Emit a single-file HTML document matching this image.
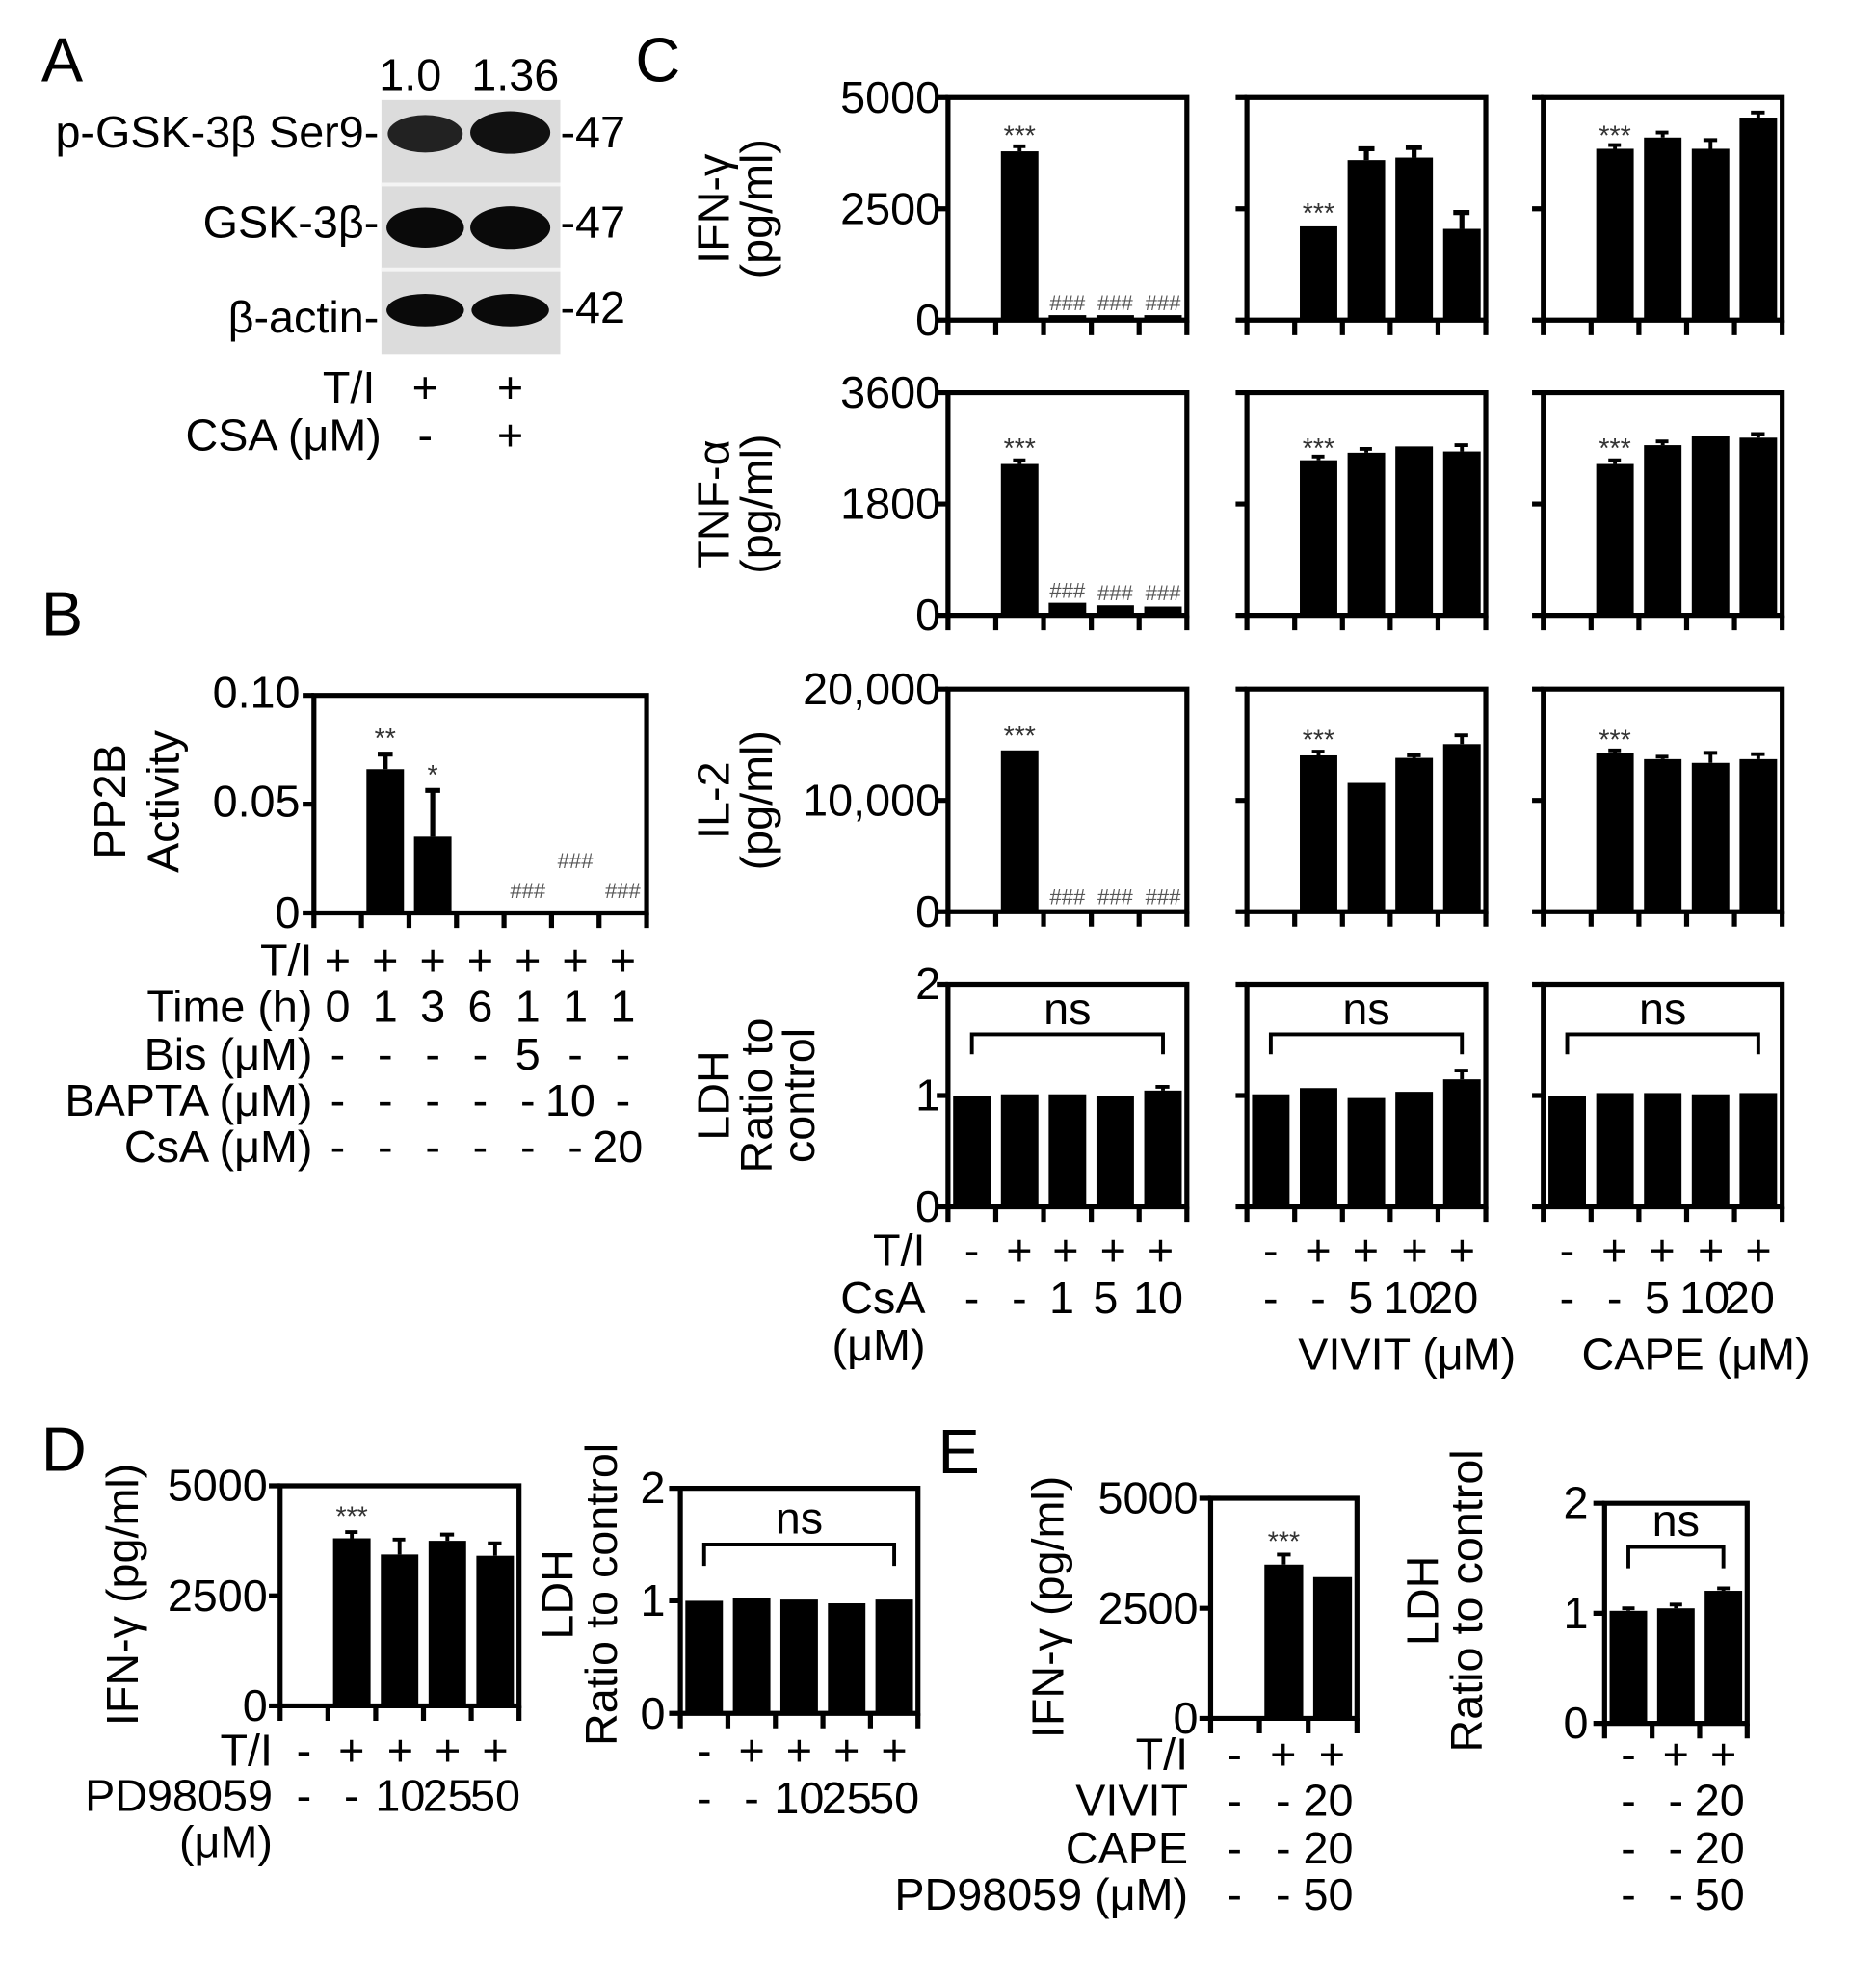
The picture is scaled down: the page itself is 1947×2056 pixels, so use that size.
<!DOCTYPE html>
<html><head><meta charset="utf-8"><style>
html,body{margin:0;padding:0;background:#fff;}
svg{display:block;}
text{font-family:"Liberation Sans",Arial,sans-serif;fill:#000;}
.t{font-size:36px;}
.e{text-anchor:end;}
.m{text-anchor:middle;}
.st{font-size:22px;text-anchor:middle;fill:#333;}
.hs{font-size:17px;text-anchor:middle;fill:#555;}
.L{font-size:50px;}
</style></head><body>
<svg width="1947" height="2056" viewBox="0 0 1500 1584" preserveAspectRatio="none" xmlns="http://www.w3.org/2000/svg">
<defs>
<g id="c5frame"><path d="M0,-2V178H191V0H-2" fill="none" stroke="#000" stroke-width="4"/><path d="M-9,0H0M-9,89H0M-9,178H0M0,178v12M38.2,178v12M76.4,178v12M114.6,178v12M152.8,178v12M191,178v12" stroke="#000" stroke-width="4"/></g>
</defs>

<!-- Panel A -->
<text x="33" y="65" class="L">A</text>
<text x="328" y="72" class="t m">1.0</text>
<text x="412" y="72" class="t m">1.36</text>
<rect x="305" y="80" width="143" height="203" fill="#dcdcdc"/>
<rect x="305" y="146" width="143" height="3" fill="#f4f4f4"/>
<rect x="305" y="214" width="143" height="3" fill="#f4f4f4"/>
<ellipse cx="340" cy="107" rx="30" ry="15" fill="#222"/>
<ellipse cx="408" cy="106" rx="32" ry="17" fill="#111"/>
<ellipse cx="340" cy="182" rx="31" ry="16" fill="#0a0a0a"/>
<ellipse cx="408" cy="182" rx="32" ry="17" fill="#0a0a0a"/>
<ellipse cx="340" cy="248" rx="31" ry="13" fill="#0a0a0a"/>
<ellipse cx="408" cy="248" rx="31" ry="13" fill="#0a0a0a"/>
<text x="303" y="118" class="t e">p-GSK-3β Ser9-</text>
<text x="303" y="190" class="t e">GSK-3β-</text>
<text x="303" y="266" class="t e">β-actin-</text>
<text x="448" y="118" class="t">-47</text>
<text x="448" y="190" class="t">-47</text>
<text x="448" y="258" class="t">-42</text>
<text x="300" y="322" class="t e">T/I</text>
<text x="340" y="322" class="t m">+</text><text x="408" y="322" class="t m">+</text>
<text x="305" y="360" class="t e">CSA (μM)</text>
<text x="340" y="360" class="t m">-</text><text x="408" y="360" class="t m">+</text>

<!-- Panel C -->
<text x="508" y="65" class="L">C</text>
<text transform="translate(583,167) rotate(-90)" class="t m">IFN-γ</text>
<text transform="translate(617,167) rotate(-90)" class="t m">(pg/ml)</text>
<text transform="translate(583,403) rotate(-90)" class="t m">TNF-α</text>
<text transform="translate(617,403) rotate(-90)" class="t m">(pg/ml)</text>
<text transform="translate(583,640) rotate(-90)" class="t m">IL-2</text>
<text transform="translate(617,640) rotate(-90)" class="t m">(pg/ml)</text>
<text transform="translate(583,876) rotate(-90)" class="t m">LDH</text>
<text transform="translate(617,876) rotate(-90)" class="t m">Ratio to</text>
<text transform="translate(651,876) rotate(-90)" class="t m">control</text>
<text x="752" y="90" class="t e">5000</text><text x="752" y="179" class="t e">2500</text><text x="752" y="268" class="t e">0</text>
<text x="752" y="326" class="t e">3600</text><text x="752" y="415" class="t e">1800</text><text x="752" y="504" class="t e">0</text>
<text x="752" y="563" class="t e">20,000</text><text x="752" y="652" class="t e">10,000</text><text x="752" y="741" class="t e">0</text>
<text x="752" y="799" class="t e">2</text><text x="752" y="888" class="t e">1</text><text x="752" y="977" class="t e">0</text>

<!-- Row1 -->
<g transform="translate(758,78)"><use href="#c5frame"/>
<rect x="42.3" y="43" width="30" height="135"/><path d="M57.3,43v-4M52,39h10" stroke="#000" stroke-width="3"/>
<rect x="80.5" y="174" width="30" height="4"/><rect x="118.7" y="174" width="30" height="4"/><rect x="156.9" y="174" width="30" height="4"/>
<text x="57.3" y="38" class="st">***</text>
<text x="95.5" y="170" class="hs">###</text><text x="133.7" y="170" class="hs">###</text><text x="171.9" y="170" class="hs">###</text>
</g>
<g transform="translate(997,78)"><use href="#c5frame"/>
<rect x="42.3" y="103" width="30" height="75"/>
<rect x="80.5" y="50" width="30" height="128"/><path d="M95.5,50v-9M89,41h13" stroke="#000" stroke-width="4"/>
<rect x="118.7" y="48" width="30" height="130"/><path d="M133.7,48v-8M127,40h13" stroke="#000" stroke-width="4"/>
<rect x="156.9" y="105" width="30" height="73"/><path d="M171.9,105v-13M165,92h13" stroke="#000" stroke-width="4"/>
<text x="57.3" y="100" class="st">***</text>
</g>
<g transform="translate(1234,78)"><use href="#c5frame"/>
<rect x="42.3" y="41" width="30" height="137"/><path d="M57.3,41v-3M52,38h10" stroke="#000" stroke-width="3"/>
<rect x="80.5" y="32" width="30" height="146"/><path d="M95.5,32v-4M90,28h10" stroke="#000" stroke-width="3"/>
<rect x="118.7" y="41" width="30" height="137"/><path d="M133.7,41v-7M128,34h11" stroke="#000" stroke-width="3"/>
<rect x="156.9" y="16" width="30" height="162"/><path d="M171.9,16v-4M166,12h11" stroke="#000" stroke-width="3"/>
<text x="57.3" y="38" class="st">***</text>
</g>

<!-- Row2 -->
<g transform="translate(758,314)"><use href="#c5frame"/>
<rect x="42.3" y="57" width="30" height="121"/><path d="M57.3,57v-3M52,54h10" stroke="#000" stroke-width="3"/>
<rect x="80.5" y="168" width="30" height="10"/><rect x="118.7" y="170" width="30" height="8"/><rect x="156.9" y="171" width="30" height="7"/>
<text x="57.3" y="52" class="st">***</text>
<text x="95.5" y="164" class="hs">###</text><text x="133.7" y="166" class="hs">###</text><text x="171.9" y="166" class="hs">###</text>
</g>
<g transform="translate(997,314)"><use href="#c5frame"/>
<rect x="42.3" y="54" width="30" height="124"/><path d="M57.3,54v-3M52,51h10" stroke="#000" stroke-width="3"/>
<rect x="80.5" y="48" width="30" height="130"/><path d="M95.5,48v-3M90,45h10" stroke="#000" stroke-width="3"/>
<rect x="118.7" y="43" width="30" height="135"/>
<rect x="156.9" y="47" width="30" height="131"/><path d="M171.9,47v-5M166,42h11" stroke="#000" stroke-width="3"/>
<text x="57.3" y="52" class="st">***</text>
</g>
<g transform="translate(1234,314)"><use href="#c5frame"/>
<rect x="42.3" y="57" width="30" height="121"/><path d="M57.3,57v-3M52,54h10" stroke="#000" stroke-width="3"/>
<rect x="80.5" y="42" width="30" height="136"/><path d="M95.5,42v-3M90,39h10" stroke="#000" stroke-width="3"/>
<rect x="118.7" y="35" width="30" height="143"/>
<rect x="156.9" y="36" width="30" height="142"/><path d="M171.9,36v-3M166,33h11" stroke="#000" stroke-width="3"/>
<text x="57.3" y="52" class="st">***</text>
</g>

<!-- Row3 -->
<g transform="translate(758,551)"><use href="#c5frame"/>
<rect x="42.3" y="49" width="30" height="129"/>
<text x="57.3" y="45" class="st">***</text>
<text x="95.5" y="172" class="hs">###</text><text x="133.7" y="172" class="hs">###</text><text x="171.9" y="172" class="hs">###</text>
</g>
<g transform="translate(997,551)"><use href="#c5frame"/>
<rect x="42.3" y="53" width="30" height="125"/><path d="M57.3,53v-3M52,50h10" stroke="#000" stroke-width="3"/>
<rect x="80.5" y="75" width="30" height="103"/>
<rect x="118.7" y="55" width="30" height="123"/><path d="M133.7,55v-2M128,53h11" stroke="#000" stroke-width="3"/>
<rect x="156.9" y="44" width="30" height="134"/><path d="M171.9,44v-7M166,37h11" stroke="#000" stroke-width="3"/>
<text x="57.3" y="48" class="st">***</text>
</g>
<g transform="translate(1234,551)"><use href="#c5frame"/>
<rect x="42.3" y="51" width="30" height="127"/><path d="M57.3,51v-2M52,49h10" stroke="#000" stroke-width="3"/>
<rect x="80.5" y="56" width="30" height="122"/><path d="M95.5,56v-2M90,54h10" stroke="#000" stroke-width="3"/>
<rect x="118.7" y="59" width="30" height="119"/><path d="M133.7,59v-8M128,51h11" stroke="#000" stroke-width="3"/>
<rect x="156.9" y="56" width="30" height="122"/><path d="M171.9,56v-4M166,52h11" stroke="#000" stroke-width="3"/>
<text x="57.3" y="48" class="st">***</text>
</g>

<!-- Row4 -->
<g transform="translate(758,787)"><use href="#c5frame"/>
<rect x="4.1" y="89" width="30" height="89"/><rect x="42.3" y="88" width="30" height="90"/><rect x="80.5" y="88" width="30" height="90"/><rect x="118.7" y="89" width="30" height="89"/><rect x="156.9" y="85" width="30" height="93"/><path d="M171.9,85v-3M166,82h11" stroke="#000" stroke-width="3"/>
<path d="M19.1,56V40H171.9V56" fill="none" stroke="#000" stroke-width="3"/>
<text x="95.5" y="32" class="t m">ns</text>
</g>
<g transform="translate(997,787)"><use href="#c5frame"/>
<rect x="4.1" y="88" width="30" height="90"/><rect x="42.3" y="83" width="30" height="95"/><rect x="80.5" y="91" width="30" height="87"/><rect x="118.7" y="86" width="30" height="92"/><rect x="156.9" y="76" width="30" height="102"/><path d="M171.9,76v-7M166,69h11" stroke="#000" stroke-width="3"/>
<path d="M19.1,56V40H171.9V56" fill="none" stroke="#000" stroke-width="3"/>
<text x="95.5" y="32" class="t m">ns</text>
</g>
<g transform="translate(1234,787)"><use href="#c5frame"/>
<rect x="4.1" y="89" width="30" height="89"/><rect x="42.3" y="87" width="30" height="91"/><rect x="80.5" y="87" width="30" height="91"/><rect x="118.7" y="88" width="30" height="90"/><rect x="156.9" y="87" width="30" height="91"/>
<path d="M19.1,56V40H171.9V56" fill="none" stroke="#000" stroke-width="3"/>
<text x="95.5" y="32" class="t m">ns</text>
</g>

<!-- C bottom labels -->
<text x="740" y="1012" class="t e">T/I</text>
<text x="740" y="1050" class="t e">CsA</text>
<text x="740" y="1088" class="t e">(μM)</text>
<text x="777" y="1012" class="t m">-</text><text x="815" y="1012" class="t m">+</text><text x="852" y="1012" class="t m">+</text><text x="890" y="1012" class="t m">+</text><text x="928" y="1012" class="t m">+</text>
<text x="777" y="1050" class="t m">-</text><text x="815" y="1050" class="t m">-</text><text x="849" y="1050" class="t m">1</text><text x="884" y="1050" class="t m">5</text><text x="926" y="1050" class="t m">10</text>
<text x="1016" y="1012" class="t m">-</text><text x="1054" y="1012" class="t m">+</text><text x="1092" y="1012" class="t m">+</text><text x="1131" y="1012" class="t m">+</text><text x="1169" y="1012" class="t m">+</text>
<text x="1016" y="1050" class="t m">-</text><text x="1054" y="1050" class="t m">-</text><text x="1088" y="1050" class="t m">5</text><text x="1126" y="1050" class="t m">10</text><text x="1162" y="1050" class="t m">20</text>
<text x="1253" y="1012" class="t m">-</text><text x="1291" y="1012" class="t m">+</text><text x="1329" y="1012" class="t m">+</text><text x="1368" y="1012" class="t m">+</text><text x="1406" y="1012" class="t m">+</text>
<text x="1253" y="1050" class="t m">-</text><text x="1291" y="1050" class="t m">-</text><text x="1325" y="1050" class="t m">5</text><text x="1363" y="1050" class="t m">10</text><text x="1399" y="1050" class="t m">20</text>
<text x="1125" y="1095" class="t m">VIVIT (μM)</text>
<text x="1356" y="1095" class="t m">CAPE (μM)</text>

<!-- Panel B -->
<text x="33" y="508" class="L">B</text>
<text transform="translate(100,641) rotate(-90)" class="t m">PP2B</text>
<text transform="translate(143,641) rotate(-90)" class="t m">Activity</text>
<text x="240" y="566" class="t e">0.10</text><text x="240" y="653" class="t e">0.05</text><text x="240" y="742" class="t e">0</text>
<g transform="translate(251,556)">
<path d="M0,-2V174H266V0H-2" fill="none" stroke="#000" stroke-width="4"/>
<path d="M-9,0H0M-9,87H0M-9,174H0M0,174v12M38,174v12M76,174v12M114,174v12M152,174v12M190,174v12M228,174v12M266,174v12" stroke="#000" stroke-width="4"/>
<rect x="42" y="59" width="30" height="115"/><path d="M57,59v-12M51,47h12" stroke="#000" stroke-width="4"/>
<rect x="80" y="113" width="30" height="61"/><path d="M95,113v-37M89,76h12" stroke="#000" stroke-width="4"/>
<text x="57" y="42" class="st">**</text><text x="95" y="71" class="st">*</text>
<text x="171" y="162" class="hs">###</text><text x="209" y="138" class="hs">###</text><text x="247" y="162" class="hs">###</text>
</g>
<text x="250" y="780" class="t e">T/I</text>
<text x="250" y="817" class="t e">Time (h)</text>
<text x="250" y="855" class="t e">Bis (μM)</text>
<text x="250" y="892" class="t e">BAPTA (μM)</text>
<text x="250" y="929" class="t e">CsA (μM)</text>
<text x="270" y="780" class="t m">+</text><text x="308" y="780" class="t m">+</text><text x="346" y="780" class="t m">+</text><text x="384" y="780" class="t m">+</text><text x="422" y="780" class="t m">+</text><text x="460" y="780" class="t m">+</text><text x="498" y="780" class="t m">+</text>
<text x="270" y="817" class="t m">0</text><text x="308" y="817" class="t m">1</text><text x="346" y="817" class="t m">3</text><text x="384" y="817" class="t m">6</text><text x="422" y="817" class="t m">1</text><text x="460" y="817" class="t m">1</text><text x="498" y="817" class="t m">1</text>
<text x="270" y="855" class="t m">-</text><text x="308" y="855" class="t m">-</text><text x="346" y="855" class="t m">-</text><text x="384" y="855" class="t m">-</text><text x="422" y="855" class="t m">5</text><text x="460" y="855" class="t m">-</text><text x="498" y="855" class="t m">-</text>
<text x="270" y="892" class="t m">-</text><text x="308" y="892" class="t m">-</text><text x="346" y="892" class="t m">-</text><text x="384" y="892" class="t m">-</text><text x="422" y="892" class="t m">-</text><text x="456" y="892" class="t m">10</text><text x="498" y="892" class="t m">-</text>
<text x="270" y="929" class="t m">-</text><text x="308" y="929" class="t m">-</text><text x="346" y="929" class="t m">-</text><text x="384" y="929" class="t m">-</text><text x="422" y="929" class="t m">-</text><text x="460" y="929" class="t m">-</text><text x="494" y="929" class="t m">20</text>

<!-- Panel D -->
<text x="33" y="1176" class="L">D</text>
<text transform="translate(110,1275) rotate(-90)" class="t m">IFN-γ (pg/ml)</text>
<text x="214" y="1200" class="t e">5000</text><text x="214" y="1288" class="t e">2500</text><text x="214" y="1376" class="t e">0</text>
<g transform="translate(224,1188)">
<path d="M0,-2V176H191V0H-2" fill="none" stroke="#000" stroke-width="4"/>
<path d="M-9,0H0M-9,88H0M-9,176H0M0,176v12M38.2,176v12M76.4,176v12M114.6,176v12M152.8,176v12M191,176v12" stroke="#000" stroke-width="4"/>
<rect x="42.3" y="42" width="30" height="134"/><path d="M57.3,42v-5M52,37h10" stroke="#000" stroke-width="3"/>
<rect x="80.5" y="55" width="30" height="121"/><path d="M95.5,55v-12M90,43h10" stroke="#000" stroke-width="3"/>
<rect x="118.7" y="44" width="30" height="132"/><path d="M133.7,44v-5M128,39h11" stroke="#000" stroke-width="3"/>
<rect x="156.9" y="56" width="30" height="120"/><path d="M171.9,56v-10M166,46h11" stroke="#000" stroke-width="3"/>
<text x="57.3" y="32" class="st">***</text>
</g>
<text x="218" y="1412" class="t e">T/I</text>
<text x="218" y="1448" class="t e">PD98059</text>
<text x="218" y="1485" class="t e">(μM)</text>
<text x="243" y="1412" class="t m">-</text><text x="281" y="1412" class="t m">+</text><text x="320" y="1412" class="t m">+</text><text x="358" y="1412" class="t m">+</text><text x="396" y="1412" class="t m">+</text>
<text x="243" y="1448" class="t m">-</text><text x="281" y="1448" class="t m">-</text><text x="320" y="1448" class="t m">10</text><text x="358" y="1448" class="t m">25</text><text x="396" y="1448" class="t m">50</text>

<text transform="translate(458,1275) rotate(-90)" class="t m">LDH</text>
<text transform="translate(493,1275) rotate(-90)" class="t m">Ratio to control</text>
<text x="532" y="1202" class="t e">2</text><text x="532" y="1292" class="t e">1</text><text x="532" y="1382" class="t e">0</text>
<g transform="translate(544,1190)">
<path d="M0,-2V180H190V0H-2" fill="none" stroke="#000" stroke-width="4"/>
<path d="M-9,0H0M-9,90H0M-9,180H0M0,180v12M38,180v12M76,180v12M114,180v12M152,180v12M190,180v12" stroke="#000" stroke-width="4"/>
<rect x="4" y="90" width="30" height="90"/><rect x="42" y="88" width="30" height="92"/><rect x="80" y="89" width="30" height="91"/><rect x="118" y="92" width="30" height="88"/><rect x="156" y="89" width="30" height="91"/>
<path d="M19,62V45H171V62" fill="none" stroke="#000" stroke-width="3"/>
<text x="95" y="36" class="t m">ns</text>
</g>
<text x="563" y="1412" class="t m">-</text><text x="601" y="1412" class="t m">+</text><text x="639" y="1412" class="t m">+</text><text x="677" y="1412" class="t m">+</text><text x="715" y="1412" class="t m">+</text>
<text x="563" y="1450" class="t m">-</text><text x="601" y="1450" class="t m">-</text><text x="639" y="1450" class="t m">10</text><text x="677" y="1450" class="t m">25</text><text x="715" y="1450" class="t m">50</text>

<!-- Panel E -->
<text x="750" y="1178" class="L">E</text>
<text transform="translate(850,1285) rotate(-90)" class="t m">IFN-γ (pg/ml)</text>
<text x="958" y="1210" class="t e">5000</text><text x="958" y="1298" class="t e">2500</text><text x="958" y="1386" class="t e">0</text>
<g transform="translate(968,1198)">
<path d="M0,-2V176H117V0H-2" fill="none" stroke="#000" stroke-width="4"/>
<path d="M-9,0H0M-9,88H0M-9,176H0M0,176v12M39,176v12M78,176v12M117,176v12" stroke="#000" stroke-width="4"/>
<rect x="43" y="53" width="31" height="123"/><path d="M58.5,53v-8M53,45h11" stroke="#000" stroke-width="3"/>
<rect x="82" y="63" width="31" height="113"/>
<text x="58.5" y="42" class="st">***</text>
</g>
<text x="950" y="1415" class="t e">T/I</text>
<text x="950" y="1452" class="t e">VIVIT</text>
<text x="950" y="1490" class="t e">CAPE</text>
<text x="950" y="1527" class="t e">PD98059 (μM)</text>
<text x="987" y="1415" class="t m">-</text><text x="1026" y="1415" class="t m">+</text><text x="1065" y="1415" class="t m">+</text>
<text x="987" y="1452" class="t m">-</text><text x="1026" y="1452" class="t m">-</text><text x="1062" y="1452" class="t m">20</text>
<text x="987" y="1490" class="t m">-</text><text x="1026" y="1490" class="t m">-</text><text x="1062" y="1490" class="t m">20</text>
<text x="987" y="1527" class="t m">-</text><text x="1026" y="1527" class="t m">-</text><text x="1062" y="1527" class="t m">50</text>

<text transform="translate(1150,1280) rotate(-90)" class="t m">LDH</text>
<text transform="translate(1185,1280) rotate(-90)" class="t m">Ratio to control</text>
<text x="1270" y="1214" class="t e">2</text><text x="1270" y="1302" class="t e">1</text><text x="1270" y="1390" class="t e">0</text>
<g transform="translate(1283,1202)">
<path d="M0,-2V176H114V0H-2" fill="none" stroke="#000" stroke-width="4"/>
<path d="M-9,0H0M-9,88H0M-9,176H0M0,176v12M38,176v12M76,176v12M114,176v12" stroke="#000" stroke-width="4"/>
<rect x="4" y="86" width="30" height="90"/><path d="M19,86v-2M14,84h10" stroke="#000" stroke-width="3"/>
<rect x="42" y="84" width="30" height="92"/><path d="M57,84v-3M52,81h10" stroke="#000" stroke-width="3"/>
<rect x="80" y="70" width="30" height="106"/><path d="M95,70v-2M90,68h10" stroke="#000" stroke-width="3"/>
<path d="M19,52V35H95V52" fill="none" stroke="#000" stroke-width="3"/>
<text x="57" y="26" class="t m">ns</text>
</g>
<text x="1302" y="1415" class="t m">-</text><text x="1340" y="1415" class="t m">+</text><text x="1378" y="1415" class="t m">+</text>
<text x="1302" y="1452" class="t m">-</text><text x="1340" y="1452" class="t m">-</text><text x="1375" y="1452" class="t m">20</text>
<text x="1302" y="1490" class="t m">-</text><text x="1340" y="1490" class="t m">-</text><text x="1375" y="1490" class="t m">20</text>
<text x="1302" y="1527" class="t m">-</text><text x="1340" y="1527" class="t m">-</text><text x="1375" y="1527" class="t m">50</text>
</svg>
</body></html>
